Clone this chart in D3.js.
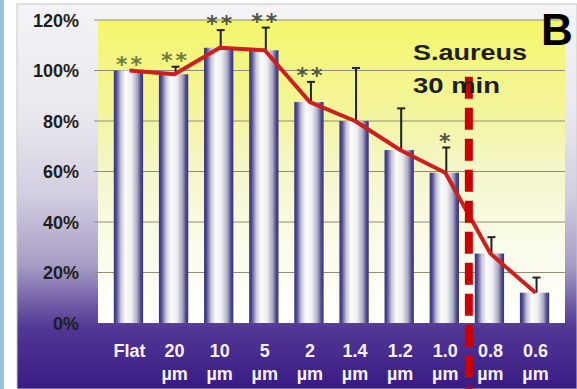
<!DOCTYPE html>
<html><head><meta charset="utf-8">
<script src="https://cdn.jsdelivr.net/npm/d3@7"></script>
<style>html,body{margin:0;padding:0;background:#fff;overflow:hidden}svg{display:block}</style>
</head><body>
<script>
const categories = ["Flat","20 µm","10 µm","5 µm","2 µm","1.4 µm","1.2 µm","1.0 µm","0.8 µm","0.6 µm"];
const values     = [100, 98.5, 109, 108, 87.5, 80, 68.5, 59.5, 27.5, 12];
const errorTops  = [null, 101.5, 116, 117, 95.5, 101, 85, 69.5, 34, 18];
const stars      = ["**","**","**","**","**","","","*","",""];
const yTicks     = [0,20,40,60,80,100,120];
const tickLabels = ["0%","20%","40%","60%","80%","100%","120%"];
const title1 = "S.aureus", title2 = "30 min", panel = "B";

const W = 577, H = 389;
const svg = d3.select("body").append("svg").attr("width", W).attr("height", H);
const defs = svg.append("defs");

const fg = defs.append("linearGradient").attr("id","frame").attr("x1",0).attr("y1",0).attr("x2",0).attr("y2",1);
[[0,"#f4f4f6"],[0.3,"#e8e7ee"],[0.5,"#d2cde0"],[0.68,"#a69cc4"],[0.76,"#7a68ac"],[0.84,"#523895"],[1,"#3a1a84"]]
  .forEach(([o,c])=>fg.append("stop").attr("offset",o).attr("stop-color",c));
const pg = defs.append("linearGradient").attr("id","plot").attr("x1",0).attr("y1",0).attr("x2",0).attr("y2",1);
[[0,"#f3f66a"],[0.3,"#f3f59c"],[0.5,"#f5f6cc"],[0.75,"#fafbea"],[1,"#ffffff"]]
  .forEach(([o,c])=>pg.append("stop").attr("offset",o).attr("stop-color",c));
const bg = defs.append("linearGradient").attr("id","bar").attr("x1",0).attr("y1",0).attr("x2",1).attr("y2",0);
[[0,"#38327a"],[0.08,"#4c4890"],[0.24,"#c6c5d8"],[0.4,"#fbfbfb"],[0.6,"#efeff3"],[0.8,"#aaa8c2"],[0.92,"#4e4a8c"],[1,"#38327a"]]
  .forEach(([o,c])=>bg.append("stop").attr("offset",o).attr("stop-color",c));

// left strip and frame
svg.append("rect").attr("x",0).attr("y",0).attr("width",4).attr("height",H).attr("fill","#9cc0dc");
svg.append("rect").attr("x",17).attr("y",4).attr("width",W-17).attr("height",H-4).attr("fill","url(#frame)").attr("stroke","#c8c8cc");

const m = {l:98, r:565, t:20, b:323};
const x = d3.scaleBand().domain(categories).range([m.l, m.r]).padding(0.35);
const y = d3.scaleLinear().domain([0,120]).range([m.b, m.t]);

svg.append("rect").attr("x",m.l).attr("y",m.t).attr("width",m.r-m.l).attr("height",m.b-m.t).attr("fill","url(#plot)");

// gridlines
svg.append("g").selectAll("line").data(yTicks.filter(d=>d>0)).join("line")
  .attr("x1",m.l-4).attr("x2",m.r).attr("y1",d=>y(d)).attr("y2",d=>y(d))
  .attr("stroke","#8e8e78").attr("stroke-width",1);

// y axis labels
const yAxis = d3.axisLeft(y).tickValues(yTicks).tickFormat((d,i)=>tickLabels[i]).tickSize(0).tickPadding(0);
const ga = svg.append("g").attr("transform",`translate(${m.l-19},0)`).call(yAxis);
ga.select(".domain").remove();
ga.selectAll("text").attr("font-family","'Liberation Sans',Arial,sans-serif").attr("font-weight","bold")
  .attr("font-size",18).attr("fill","#1e1e1e").attr("dy","0.35em");

// bars
svg.append("g").selectAll("rect").data(values).join("rect")
  .attr("x",(d,i)=>x(categories[i])).attr("width",x.bandwidth())
  .attr("y",d=>y(d)).attr("height",d=>y(0)-y(d)).attr("fill","url(#bar)");

// error bars
const eb = svg.append("g").attr("stroke","#222").attr("stroke-width",2);
values.forEach((v,i)=>{
  if(errorTops[i]==null) return;
  const cx = x(categories[i]) + x.bandwidth()/2 + 2;
  eb.append("line").attr("x1",cx).attr("x2",cx).attr("y1",y(v)).attr("y2",y(errorTops[i]));
  eb.append("line").attr("x1",cx-4).attr("x2",cx+4).attr("y1",y(errorTops[i])).attr("y2",y(errorTops[i]));
});

// red line
const line = d3.line().x((d,i)=>x(categories[i])+x.bandwidth()/2+1).y(d=>y(d));
svg.append("path").datum(values).attr("d",line).attr("fill","none")
  .attr("stroke","#cc1f1f").attr("stroke-width",4).attr("stroke-linejoin","round");

// stars
svg.append("g").selectAll("text").data(stars).join("text")
  .attr("x",(d,i)=>x(categories[i])+x.bandwidth()/2+2)
  .attr("y",(d,i)=>y(errorTops[i]!=null?errorTops[i]:values[i]) + 1)
  .attr("text-anchor","middle").attr("font-family","'DejaVu Sans',sans-serif").attr("font-weight","bold")
  .attr("font-size",22).attr("letter-spacing",3)
  .attr("fill",(d,i)=>i<2?"#6f7e3e":"#4f5648").text(d=>d);

// dashed line between 1.0 and 0.8
const dx = x(categories[7]) + x.bandwidth() + x.step()*x.paddingInner()/2 + 2;
svg.append("line").attr("x1",dx).attr("x2",dx).attr("y1",y(97.5)).attr("y2",H)
  .attr("stroke","#cc0000").attr("stroke-width",8).attr("stroke-dasharray","22,9");

// x labels
const xl = svg.append("g").attr("font-family","'Liberation Sans',Arial,sans-serif").attr("font-weight","bold")
  .attr("font-size",18).attr("fill","#f6f2ff").attr("text-anchor","middle");
categories.forEach(c=>{
  const parts = c.split(" ");
  const cx = x(c)+x.bandwidth()/2+1;
  xl.append("text").attr("x",cx).attr("y",357).text(parts[0]);
  if(parts[1]) xl.append("text").attr("x",cx).attr("y",380).text(parts[1]);
});

// titles
const tf = "'Liberation Sans',Arial,sans-serif";
svg.append("text").attr("x",413).attr("y",60).attr("font-family",tf).attr("font-weight","bold").attr("font-size",22)
  .attr("fill","#1e1e1e").attr("textLength",114).attr("lengthAdjust","spacingAndGlyphs").text(title1);
svg.append("text").attr("x",413).attr("y",93).attr("font-family",tf).attr("font-weight","bold").attr("font-size",22)
  .attr("fill","#1e1e1e").attr("textLength",87).attr("lengthAdjust","spacingAndGlyphs").text(title2);
svg.append("text").attr("x",541).attr("y",45).attr("font-family",tf).attr("font-weight","bold").attr("font-size",44)
  .attr("fill","#000").text(panel);
</script>
</body></html>
